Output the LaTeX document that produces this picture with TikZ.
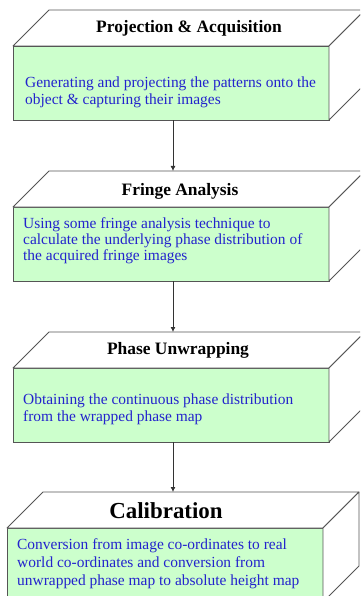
\documentclass[tikz,border=0pt]{standalone}
\usepackage{fontspec}
\setmainfont{Liberation Serif}
\usetikzlibrary{arrows.meta}
\definecolor{boxgreen}{RGB}{204,255,204}
\definecolor{edgegray}{RGB}{85,85,85}
\definecolor{bodyblue}{RGB}{35,35,205}
\begin{document}
\begin{tikzpicture}[x=1bp,y=-1bp,
  front/.style={draw=edgegray, line width=0.8bp, fill=boxgreen, anchor=north west,
    minimum width=316bp, minimum height=74bp, inner sep=0pt, outer sep=0pt},
  face/.style={draw=edgegray, line width=0.8bp, fill=white, line join=round},
  titletext/.style={font=\fontsize{17.5}{20}\selectfont\bfseries, text=black, inner sep=0pt},
  bigtitle/.style={font=\fontsize{23}{26}\selectfont\bfseries, text=black, inner sep=0pt},
  bodytext/.style={font=\fontsize{15.5}{16.3}\selectfont, text=bodyblue, align=left,
    anchor=north west, inner sep=0pt},
  bodytextb/.style={font=\fontsize{15.5}{18.3}\selectfont, text=bodyblue, align=left,
    anchor=north west, inner sep=0pt},
  arr/.style={draw=black!80, line width=0.8bp, -{Latex[length=5bp,width=5bp]}}
]
\useasboundingbox (0,0) rectangle (360,596);
\clip (0,0) rectangle (360,596);

% box 1
\node[front] (f1) at (13,46) {};
\draw[face] (f1.north west) -- ++(36,-36) -- ++(316,0) -- (f1.north east) -- cycle;
\draw[face] (f1.north east) -- ++(36,-36) -- ++(0,74) -- (f1.south east) -- cycle;
\node[titletext] (h1) at (189,28) {Projection \& Acquisition};
\node[bodytext] (b1) at (25,77) {Generating and projecting the patterns onto the\\object \& capturing their images};

% box 2
\node[front] (f2) at (13,207) {};
\draw[face] (f2.north west) -- ++(36,-36) -- ++(316,0) -- (f2.north east) -- cycle;
\draw[face] (f2.north east) -- ++(36,-36) -- ++(0,74) -- (f2.south east) -- cycle;
\node[titletext] (h2) at (180,191) {Fringe Analysis};
\node[bodytext] (b2) at (23,217) {Using some fringe analysis technique to\\calculate the underlying phase distribution of\\the acquired fringe images};

% box 3
\node[front] (f3) at (13,368) {};
\draw[face] (f3.north west) -- ++(36,-36) -- ++(316,0) -- (f3.north east) -- cycle;
\draw[face] (f3.north east) -- ++(36,-36) -- ++(0,74) -- (f3.south east) -- cycle;
\node[titletext] (h3) at (178,350) {Phase Unwrapping};
\node[bodytext] (b3) at (23,394) {Obtaining the continuous phase distribution\\from the wrapped phase map};

% box 4
\node[front] (f4) at (7,528) {};
\draw[face] (f4.north west) -- ++(36,-36) -- ++(316,0) -- (f4.north east) -- cycle;
\draw[face] (f4.north east) -- ++(36,-36) -- ++(0,74) -- (f4.south east) -- cycle;
\node[bigtitle] (h4) at (166,511) {Calibration};
\node[bodytextb] (b4) at (17,538) {Conversion from image co-ordinates to real\\world co-ordinates and conversion from\\unwrapped phase map to absolute height map};

% connectors
\coordinate (t2) at (173,171);
\coordinate (t3) at (173,332);
\coordinate (t4) at (173,492);
\draw[arr] (f1.south -| t2) -- (t2);
\draw[arr] (f2.south -| t3) -- (t3);
\draw[arr] (f3.south -| t4) -- (t4);
\end{tikzpicture}
\end{document}
